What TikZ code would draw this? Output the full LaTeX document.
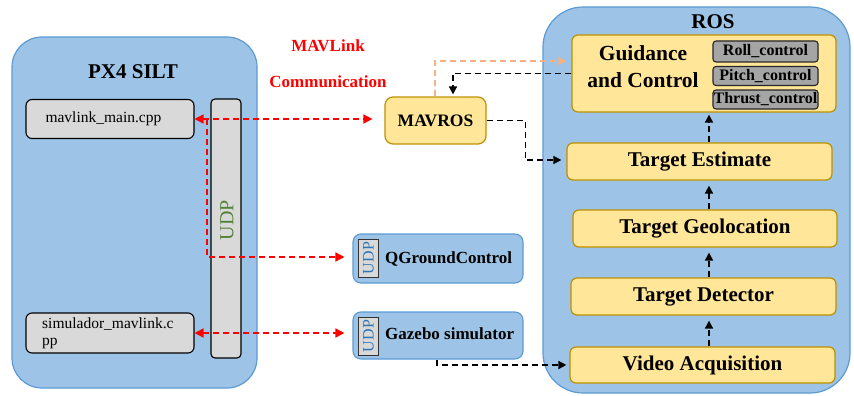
\documentclass[tikz,border=0pt]{standalone}
\usepackage{fontspec}
\setmainfont{Liberation Serif}
\usetikzlibrary{arrows.meta,calc}
\definecolor{bluefill}{HTML}{9DC3E6}
\definecolor{blueline}{HTML}{5B9BD5}
\definecolor{yelfill}{HTML}{FFE699}
\definecolor{yelline}{HTML}{BF9000}
\definecolor{greyfill}{HTML}{D9D9D9}
\definecolor{darkgrey}{HTML}{A5A5A5}
\definecolor{udpgreen}{HTML}{548235}
\definecolor{udpblue}{HTML}{2E75B6}
\definecolor{peach}{HTML}{F4B183}
\tikzset{
  container/.style={draw=blueline, fill=bluefill, line width=1.2pt, rounded corners=30pt, inner sep=0pt},
  filebox/.style={draw=black, fill=greyfill, line width=1.1pt, rounded corners=6pt, inner sep=0pt},
  udpbar/.style={draw=black, fill=greyfill, line width=1.1pt, rounded corners=4pt, inner sep=0pt},
  appbox/.style={draw=blueline, fill=bluefill, line width=1.1pt, rounded corners=8pt, inner sep=0pt},
  udpsmall/.style={draw=black!80, fill=greyfill, line width=0.8pt, inner sep=0pt},
  rosbox/.style={draw=yelline, fill=yelfill, line width=1.2pt, rounded corners=6pt, inner sep=0pt, font=\bfseries\fontsize{21}{23}\selectfont},
  ctrlbox/.style={draw=black!85, fill=darkgrey, line width=1.1pt, rounded corners=3pt, inner sep=0pt, font=\bfseries\fontsize{16}{17}\selectfont},
  titletext/.style={font=\bfseries\fontsize{21}{23}\selectfont},
  filetext/.style={font=\fontsize{15.5}{17}\selectfont},
  apptext/.style={font=\bfseries\fontsize{17}{19}\selectfont},
  redtext/.style={text=red, font=\bfseries\fontsize{17}{19}\selectfont},
  redlink/.style={draw=red, line width=1.6pt, dash pattern=on 6pt off 4pt, {Triangle[length=9pt,width=9pt]}-{Triangle[length=9pt,width=9pt]}},
  redone/.style={draw=red, line width=1.6pt, dash pattern=on 6pt off 4pt, -{Triangle[length=9pt,width=9pt]}},
  blklink/.style={draw=black, line width=1.6pt, dash pattern=on 6pt off 4pt, -{Triangle[length=8pt,width=8pt]}},
  peachlink/.style={draw=peach, line width=1.6pt, dash pattern=on 6pt off 4pt, -{Triangle[length=8pt,width=8pt]}},
}
\begin{document}
\begin{tikzpicture}[x=1pt,y=-1pt]
\useasboundingbox (0,0) rectangle (854,396);
% PX4 SILT
\node[container, minimum width=245pt, minimum height=351pt] (px4) at (134.5,212.5) {};
\node[titletext] (px4t) at (133,72) {PX4 SILT};
\node[filebox, minimum width=168pt, minimum height=39pt] (mm) at (110,119) {};
\node[filetext, anchor=west] (mmt) at (42,119) {mavlink\_main.cpp};
\node[filebox, minimum width=168pt, minimum height=40pt] (sim) at (110,333) {};
\node[filetext, anchor=west, align=left, inner sep=0pt] (simt) at (42,333) {simulador\_mavlink.c\\pp};
\node[udpbar, minimum width=30pt, minimum height=259pt] (udp) at (226,228.5) {};
\node[rotate=90, text=udpgreen, font=\fontsize{20}{22}\selectfont] (udpt) at (227,220) {UDP};
% MAVLink communication label
\node[redtext] (ml1) at (328,46) {MAVLink};
\node[redtext] (ml2) at (328,82) {Communication};
% MAVROS
\node[rosbox, rounded corners=8pt, minimum width=101pt, minimum height=47pt, font=\bfseries\fontsize{17.5}{19}\selectfont] (mavros) at (435.5,120.5) {MAVROS};
% QGC and Gazebo
\node[appbox, minimum width=170pt, minimum height=49pt] (qgc) at (438,258.5) {};
\node[udpsmall, minimum width=20pt, minimum height=38pt] (qgcu) at (368,258) {};
\node[rotate=90, text=udpblue, font=\fontsize{16}{17}\selectfont] (qgcut) at (368.5,258) {UDP};
\node[apptext, anchor=west, inner sep=0pt] (qgct) at (385,259) {QGroundControl};
\node[appbox, minimum width=170pt, minimum height=47pt] (gaz) at (438,335.5) {};
\node[udpsmall, minimum width=20pt, minimum height=38pt] (gazu) at (368,336) {};
\node[rotate=90, text=udpblue, font=\fontsize{16}{17}\selectfont] (gazut) at (368.5,336) {UDP};
\node[apptext, anchor=west, inner sep=0pt] (gazt) at (385,334) {Gazebo simulator};
% ROS
\node[container, rounded corners=40pt, minimum width=307pt, minimum height=386pt] (ros) at (696.5,200) {};
\node[titletext] (rost) at (713,22) {ROS};
\node[rosbox, minimum width=264pt, minimum height=77pt] (gc) at (704,73.5) {};
\node[font=\bfseries\fontsize{21.5}{27}\selectfont, align=center, inner sep=0pt] (gct) at (643,67) {Guidance\\and Control};
\node[ctrlbox, minimum width=105pt, minimum height=21pt] (roll) at (765.5,51.5) {Roll\_control};
\node[ctrlbox, minimum width=105pt, minimum height=19pt] (pitch) at (765.5,76) {Pitch\_control};
\node[ctrlbox, minimum width=105pt, minimum height=19pt] (thrust) at (765.5,99.5) {Thrust\_control};
\node[rosbox, minimum width=265pt, minimum height=37pt] (te) at (699.5,161.5) {Target Estimate};
\node[rosbox, minimum width=264pt, minimum height=37pt] (tg) at (705,228.5) {Target Geolocation};
\node[rosbox, minimum width=265pt, minimum height=37pt] (td) at (703.5,296.5) {Target Detector};
\node[rosbox, minimum width=265pt, minimum height=36pt] (va) at (702.5,365) {Video Acquisition};
% connectors
\coordinate (split) at (207,119);
\coordinate (ax) at (709,0);
\draw[redlink, shorten >=12pt] (mm.east) -- (mm.east -| mavros.west);
\draw[redone, shorten >=8pt] (split) |- (qgc.west |- 0,257);
\draw[redlink, shorten >=8pt] (sim.east) -- (sim.east -| gaz.west);
\draw[blklink, shorten >=5pt] (mavros.east) -- ++(39,0) |- ($(te.west)+(0,-1.5)$);
\draw[blklink, shorten >=2pt] (gc.west) -| ($(mavros.north)+(17.5,0)$);
\draw[peachlink, shorten >=5pt] ($(mavros.north)+(-0.5,0)$) |- ($(gc.west)+(0,-12.5)$);
\draw[blklink, shorten >=3pt] ($(gaz.south)+(-1,0)$) |- (va.west);
\draw[blklink, shorten >=5pt] (va.north -| ax) -- (td.south -| ax);
\draw[blklink, shorten >=5pt] (td.north -| ax) -- (tg.south -| ax);
\draw[blklink, shorten >=5pt] (tg.north -| ax) -- (te.south -| ax);
\draw[blklink, shorten >=2pt] (te.north -| ax) -- (gc.south -| ax);
\end{tikzpicture}
\end{document}
